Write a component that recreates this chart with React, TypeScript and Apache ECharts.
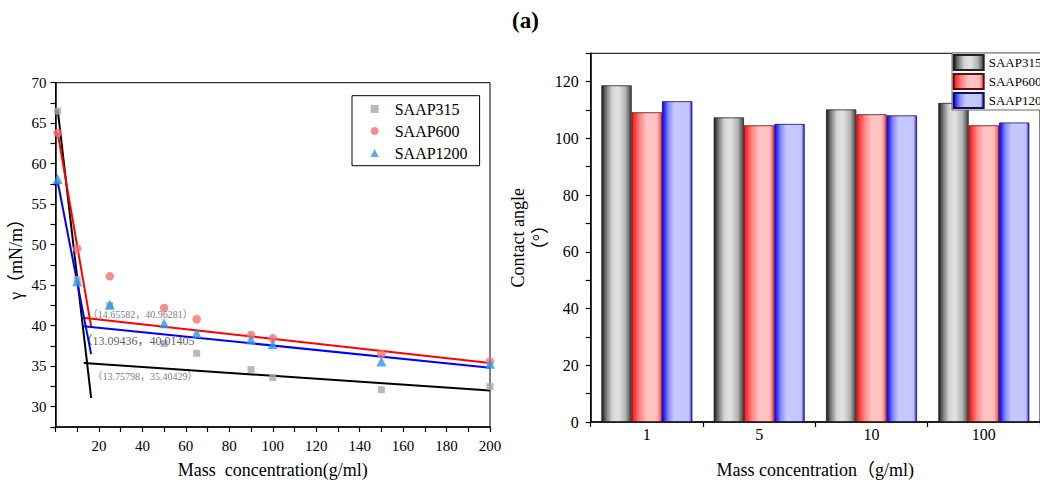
import React, { useEffect, useRef } from "react";
import * as echarts from "echarts";

// ---- Left chart: surface tension vs mass concentration ----
const concX = [1, 10, 25, 50, 65, 90, 100, 150, 200];
const saap315 = [66.5, 45.7, 42.5, 37.8, 36.6, 34.6, 33.6, 32.1, 32.5];
const saap600 = [63.8, 49.5, 46.1, 42.2, 40.8, 38.85, 38.45, 36.5, 35.6];
const saap1200 = [58.1, 45.5, 42.6, 40.3, 39.1, 38.3, 37.7, 35.6, 35.3];

const fit315Steep = [[1, 66.7], [16.4, 31.1]];
const fit315Flat = [[13, 35.4], [200, 32.0]];
const fit600Steep = [[1, 63.8], [16.4, 39.9]];
const fit600Flat = [[12.7, 41.0], [200, 35.4]];
const fit1200Steep = [[1, 57.8], [16.4, 36.5]];
const fit1200Flat = [[13, 39.95], [200, 34.8]];

const annotX = [14.9, 11.5, 17];
const annotY = [41.35, 38.08, 33.76];
const annotText = ["（14.65582，40.96281）", "（13.09436，40.01405", "（13.75798，35.40429）"];

const legendNames = ["SAAP315", "SAAP600", "SAAP1200"];

// ---- Right chart: contact angle ----
const barCats = ["1", "5", "10", "100"];
const bar315 = [118.7, 107.4, 110.2, 112.5];
const bar600 = [109.2, 104.6, 108.5, 104.6];
const bar1200 = [113.1, 105.1, 108.1, 105.6];

const FONT = '"Liberation Serif", "Noto Sans CJK SC", serif';

function grad(stops: [number, string][]) {
  return new echarts.graphic.LinearGradient(
    0, 0, 1, 0,
    stops.map(([offset, color]) => ({ offset, color }))
  );
}

export default function App() {
  const ref = useRef<HTMLDivElement>(null);

  useEffect(() => {
    if (!ref.current) return;
    const chart = echarts.init(ref.current, undefined, { renderer: "svg" });

    const grayGrad = grad([
      [0, "#1a1a1a"], [0.15, "#7a7a7a"], [0.35, "#d4d4d4"], [0.55, "#e2e2e2"],
      [0.8, "#b4b4b4"], [1, "#404040"],
    ]);
    const redGrad = grad([
      [0, "#ff1010"], [0.25, "#ff8080"], [0.5, "#ffc4c4"], [0.85, "#ffc0c0"], [1, "#ff4040"],
    ]);
    const blueGrad = grad([
      [0, "#0000ff"], [0.2, "#8888ff"], [0.4, "#c8c8ff"], [0.9, "#c4c4ff"], [1, "#2020ff"],
    ]);

    const axisLine = { show: true, lineStyle: { color: "#000", width: 1.5 } };
    const tick = { show: true, length: 5, lineStyle: { color: "#000", width: 1.2 } };

    const lineSeries = (data: number[][], color: string) => ({
      type: "line",
      xAxisIndex: 0,
      yAxisIndex: 0,
      data,
      symbol: "none",
      silent: true,
      z: 2,
      lineStyle: { color, width: 2 },
    });

    const option: any = {
      animation: false,
      backgroundColor: "#fff",
      textStyle: { fontFamily: FONT },
      graphic: [
        {
          type: "text",
          left: 512,
          top: 9,
          style: { text: "(a)", font: `bold 23px ${FONT}`, fill: "#000" },
        },
      ],
      grid: [
        { left: 55.5, right: 550, top: 82.7, bottom: 53.3, show: true, borderColor: "#000", borderWidth: 1 },
        { left: 590.7, right: -10.8, top: 53.3, bottom: 60.7, show: true, borderColor: "#000", borderWidth: 1 },
      ],
      legend: [
        {
          orient: "vertical",
          left: 352,
          top: 95.7,
          padding: [5.3, 12, 4.7, 18.7],
          itemWidth: 8,
          itemHeight: 8,
          itemGap: 6,
          borderColor: "#000",
          borderWidth: 1,
          backgroundColor: "#fff",
          textStyle: { fontFamily: FONT, fontSize: 16, color: "#000", padding: [0, 0, 0, 11] },
          data: [
            { name: "SAAP315", icon: "rect" },
            { name: "SAAP600", icon: "circle" },
            { name: "SAAP1200", icon: "triangle" },
          ],
        },
        {
          orient: "vertical",
          left: 952,
          top: 53,
          padding: [1, 6, 1, 0.7],
          itemWidth: 30,
          itemHeight: 15,
          itemGap: 2,
          icon: "rect",
          borderColor: "#666",
          borderWidth: 1,
          backgroundColor: "#fff",
          textStyle: { fontFamily: FONT, fontSize: 13, color: "#000" },
          data: ["b315", "b600", "b1200"],
          formatter: (n: string) => legendNames[["b315", "b600", "b1200"].indexOf(n)],
        },
      ],
      xAxis: [
        {
          type: "value",
          gridIndex: 0,
          min: 0,
          max: 200,
          interval: 10,
          name: "Mass  concentration(g/ml)",
          nameLocation: "middle",
          nameGap: 34,
          nameTextStyle: { fontFamily: FONT, fontSize: 18, color: "#000" },
          axisLine,
          axisTick: tick,
          splitLine: { show: false },
          axisLabel: {
            fontFamily: FONT,
            fontSize: 15,
            color: "#000",
            margin: 11,
            formatter: (v: number) => (v % 20 === 0 && v !== 0 ? String(v) : ""),
          },
        },
        {
          type: "category",
          gridIndex: 1,
          data: barCats,
          name: "Mass concentration（g/ml)",
          nameLocation: "middle",
          nameGap: 39,
          nameTextStyle: { fontFamily: FONT, fontSize: 18, color: "#000" },
          axisLine,
          axisTick: { ...tick, alignWithLabel: false },
          splitLine: { show: false },
          axisLabel: { fontFamily: FONT, fontSize: 16, color: "#000", margin: 4 },
        },
      ],
      yAxis: [
        {
          type: "value",
          gridIndex: 0,
          min: 27.5,
          max: 70,
          interval: 2.5,
          name: "γ（mN/m）",
          nameLocation: "middle",
          nameGap: 31,
          nameTextStyle: { fontFamily: FONT, fontSize: 18, color: "#000" },
          axisLine,
          axisTick: tick,
          splitLine: { show: false },
          axisLabel: {
            fontFamily: FONT,
            fontSize: 15,
            color: "#000",
            margin: 9,
            formatter: (v: number) => (v % 5 === 0 ? String(v) : ""),
          },
        },
        {
          type: "value",
          gridIndex: 1,
          min: 0,
          max: 130,
          interval: 10,
          name: "Contact angle\n（°）",
          nameLocation: "middle",
          nameGap: 40,
          nameTextStyle: { fontFamily: FONT, fontSize: 18, color: "#000", lineHeight: 22 },
          axisLine,
          axisTick: tick,
          splitLine: { show: false },
          axisLabel: {
            fontFamily: FONT,
            fontSize: 16,
            color: "#000",
            margin: 12,
            formatter: (v: number) => (v % 20 === 0 && v <= 120 ? String(v) : ""),
          },
        },
      ],
      series: [
        lineSeries(fit315Steep, "#000000"),
        lineSeries(fit315Flat, "#000000"),
        lineSeries(fit600Steep, "#ff0000"),
        lineSeries(fit600Flat, "#ff0000"),
        lineSeries(fit1200Steep, "#0000ff"),
        lineSeries(fit1200Flat, "#0000ff"),
        {
          name: "SAAP315",
          type: "scatter",
          xAxisIndex: 0,
          yAxisIndex: 0,
          symbol: "rect",
          symbolSize: 7,
          z: 3,
          itemStyle: { color: "#a9a9a9" },
          data: concX.map((x, i) => [x, saap315[i]]),
        },
        {
          name: "SAAP600",
          type: "scatter",
          xAxisIndex: 0,
          yAxisIndex: 0,
          symbol: "circle",
          symbolSize: 8.5,
          z: 3,
          itemStyle: { color: "#f87272" },
          data: concX.map((x, i) => [x, saap600[i]]),
        },
        {
          name: "SAAP1200",
          type: "scatter",
          xAxisIndex: 0,
          yAxisIndex: 0,
          symbol: "triangle",
          symbolSize: 10,
          z: 3,
          itemStyle: { color: "#2b97ec" },
          data: concX.map((x, i) => [x, saap1200[i]]),
        },
        {
          type: "scatter",
          xAxisIndex: 0,
          yAxisIndex: 0,
          symbolSize: 0,
          silent: true,
          z: 4,
          data: annotX.map((x, i) => ({
            value: [x, annotY[i]],
            label: {
              show: true,
              position: "right",
              distance: 0,
              formatter: annotText[i],
              fontFamily: FONT,
              fontSize: i === 1 ? 12 : 10,
              color: i === 1 ? "#333" : "#555",
            },
          })),
        },
        {
          name: "b315",
          type: "bar",
          xAxisIndex: 1,
          yAxisIndex: 1,
          barGap: "0%",
          barCategoryGap: "19%",
          itemStyle: { color: grayGrad, borderColor: "#222", borderWidth: 0.8 },
          data: bar315,
        },
        {
          name: "b600",
          type: "bar",
          xAxisIndex: 1,
          yAxisIndex: 1,
          barGap: "0%",
          barCategoryGap: "19%",
          itemStyle: { color: redGrad, borderColor: "#5a1010", borderWidth: 0.8 },
          data: bar600,
        },
        {
          name: "b1200",
          type: "bar",
          xAxisIndex: 1,
          yAxisIndex: 1,
          barGap: "0%",
          barCategoryGap: "19%",
          itemStyle: { color: blueGrad, borderColor: "#10105a", borderWidth: 0.8 },
          data: bar1200,
        },
      ],
    };

    chart.setOption(option);
    return () => chart.dispose();
  }, []);

  return (
    <div
      style={{
        position: "fixed",
        left: 0,
        top: 0,
        width: 1040,
        height: 484,
        overflow: "hidden",
        background: "#fff",
      }}
    >
      <div ref={ref} style={{ width: 1040, height: 484 }} />
    </div>
  );
}
